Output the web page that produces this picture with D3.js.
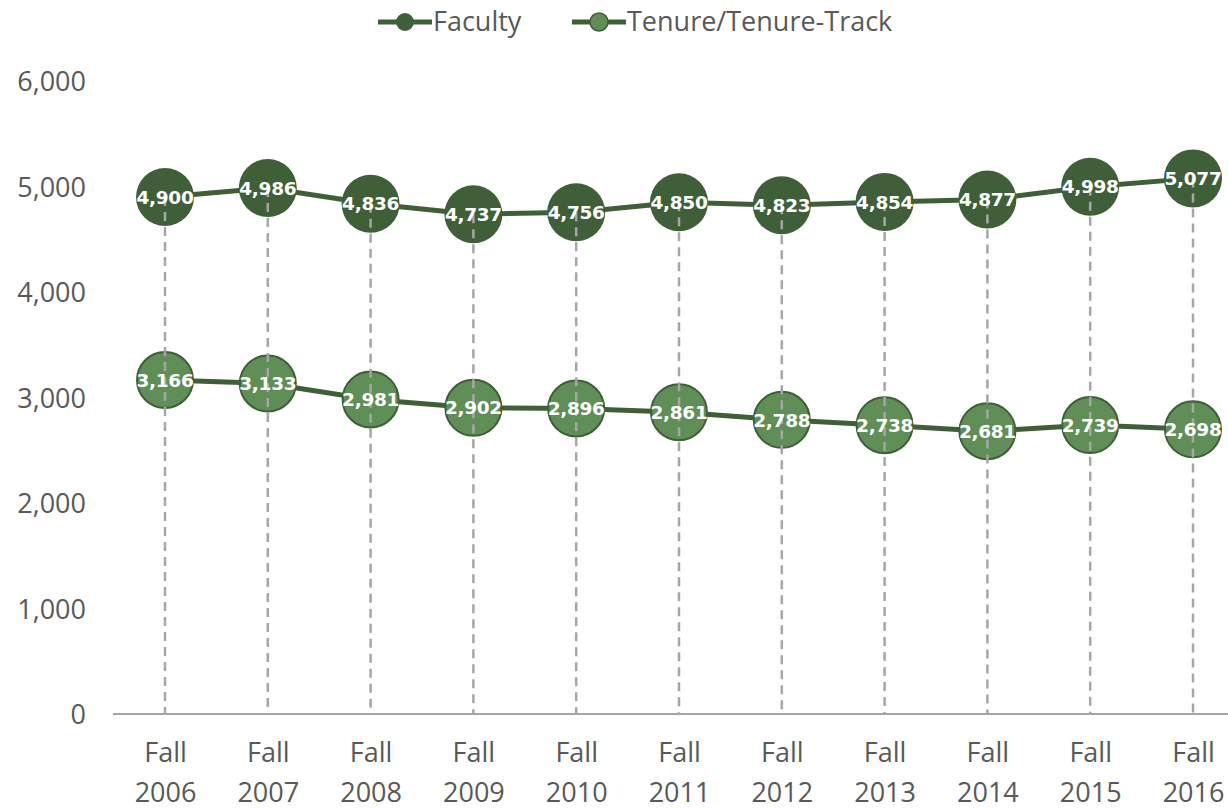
<!DOCTYPE html>
<html><head><meta charset="utf-8">
<script src="https://cdn.jsdelivr.net/npm/d3@7"></script>
<style>body{margin:0;background:#fff}svg{display:block}</style>
</head><body>
<svg id="c" width="1228" height="809"></svg>
<script>
const categories = ["2006","2007","2008","2009","2010","2011","2012","2013","2014","2015","2016"];
const faculty = [4900,4986,4836,4737,4756,4850,4823,4854,4877,4998,5077];
const tenure = [3166,3133,2981,2902,2896,2861,2788,2738,2681,2739,2698];
const yTicks = [0,1000,2000,3000,4000,5000,6000];
const seriesNames = ["Faculty","Tenure/Tenure-Track"];

const dark = "#3f5f38", light = "#5f8f56";
const svg = d3.select("#c");
const x = d3.scalePoint().domain(categories).range([165,1193]);
const y = d3.scaleLinear().domain([0,6000]).range([714,81]);
const fmt = d3.format(",");
const tickFont = "'Open Sans', 'Liberation Sans', sans-serif";
const fs = "27px";

// y axis labels
const ya = svg.append("g").attr("transform","translate(86,0)")
  .call(d3.axisLeft(y).tickValues(yTicks).tickSize(0).tickPadding(0).tickFormat(fmt));
ya.select(".domain").remove();
ya.selectAll("text").attr("fill","#595959").attr("dy","0.36em").style("font-family",tickFont).style("font-size",fs);

// x axis
const xa = svg.append("g").attr("transform","translate(0,714)")
  .call(d3.axisBottom(x).tickSize(0).tickFormat(""));
xa.select(".domain").remove();
svg.append("line").attr("x1",113).attr("x2",1228).attr("y1",714).attr("y2",714)
  .attr("stroke","#a6a6a6").attr("stroke-width",2);
xa.selectAll(".tick").each(function(d){
  const t = d3.select(this).append("text").attr("fill","#595959").attr("text-anchor","middle")
    .style("font-family",tickFont).style("font-size",fs);
  t.append("tspan").attr("x",0).attr("y",48).text("Fall");
  t.append("tspan").attr("x",0).attr("y",88).text(d);
});

// lines
const line = d3.line().x((d,i)=>x(categories[i])).y(d=>y(d));
svg.append("path").datum(faculty).attr("d",line).attr("fill","none").attr("stroke",dark).attr("stroke-width",5);
svg.append("path").datum(tenure).attr("d",line).attr("fill","none").attr("stroke",dark).attr("stroke-width",5);

// markers
svg.selectAll(".mf").data(faculty).enter().append("circle")
  .attr("cx",(d,i)=>x(categories[i])).attr("cy",d=>y(d)).attr("r",29).attr("fill",dark);
svg.selectAll(".mt").data(tenure).enter().append("circle")
  .attr("cx",(d,i)=>x(categories[i])).attr("cy",d=>y(d)).attr("r",28).attr("fill",light)
  .attr("stroke",dark).attr("stroke-width",2);

// drop lines
svg.selectAll(".drop").data(faculty).enter().append("line")
  .attr("x1",(d,i)=>x(categories[i])).attr("x2",(d,i)=>x(categories[i]))
  .attr("y1",d=>y(d)).attr("y2",y(0))
  .attr("stroke","#a6a6a6").attr("stroke-width",2.5).attr("stroke-dasharray","9,6");

// labels
function labels(data){
  svg.append("g").selectAll("text").data(data).enter().append("text")
    .attr("x",(d,i)=>x(categories[i])).attr("y",d=>y(d)).attr("dy","0.36em")
    .attr("text-anchor","middle").attr("fill","#fff")
    .style("font-family","'DejaVu Sans', sans-serif").style("font-weight","bold").style("font-size","18.5px")
    .style("letter-spacing","-0.3px")
    .text(d=>fmt(d));
}
labels(faculty); labels(tenure);

// legend
const leg = [{x:378, fill:dark, stroke:"none"},{x:572, fill:light, stroke:dark}];
leg.forEach((l,i)=>{
  const g = svg.append("g").attr("transform",`translate(${l.x},22)`);
  g.append("line").attr("x1",0).attr("x2",54).attr("stroke",dark).attr("stroke-width",5);
  g.append("circle").attr("cx",27).attr("r",9).attr("fill",l.fill).attr("stroke",l.stroke).attr("stroke-width",1.5);
  g.append("text").attr("x",55).attr("dy","0.35em").attr("fill","#595959")
    .style("font-family",tickFont).style("font-size",fs).text(seriesNames[i]);
});
</script>
</body></html>
